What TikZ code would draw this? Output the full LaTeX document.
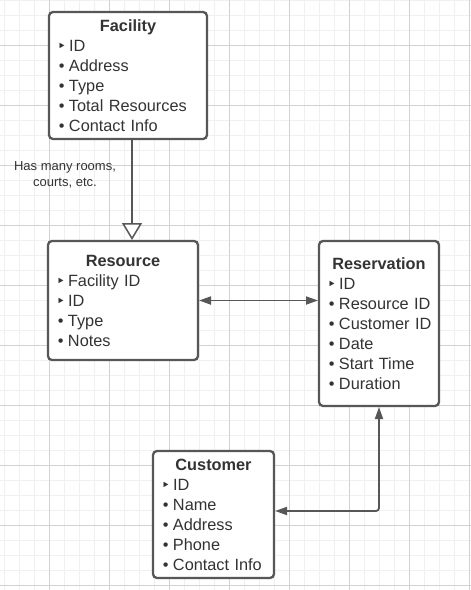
\documentclass[tikz,border=0pt]{standalone}
\usepackage{fontspec}
\setmainfont{Liberation Sans}
\newfontfamily\markfont{DejaVu Sans}
\usetikzlibrary{arrows.meta}

\definecolor{inkgray}{HTML}{333333}
\definecolor{edgegray}{HTML}{575757}
\definecolor{minorline}{HTML}{F0F0F0}
\definecolor{majorline}{HTML}{D2D2D2}

\newcommand\dotitem{\makebox[10pt][l]{\makebox[5.6pt][c]{•}}}
\newcommand\keyitem{\makebox[10pt][l]{\makebox[5.6pt][c]{\markfont\fontsize{15}{15}\selectfont ‣}}}
\newcommand\entitytitle[1]{\makebox[\hsize][c]{\bfseries #1}}

\tikzset{
  entity/.style={draw=edgegray, line width=2.3pt, rounded corners=4pt, fill=white,
    text=inkgray, anchor=north west, align=left, inner xsep=10pt, inner ysep=0pt,
    outer sep=0pt, font=\fontsize{16.3}{20}\selectfont},
  link/.style={draw=edgegray, line width=1.8pt, shorten <=1pt, shorten >=1pt},
  note/.style={text=inkgray, align=center, font=\fontsize{13}{16}\selectfont},
  >={Triangle[length=12pt,width=8pt]}
}

\begin{document}
\begin{tikzpicture}[x=1pt,y=-1pt]
\useasboundingbox (0,0) rectangle (471,590);
\fill[white] (0,0) rectangle (471,590);
\begin{scope}
\clip (0,0) rectangle (471,590);
\draw[minorline, line width=0.8pt, xshift=4.5pt, step=15pt] (-15pt,15pt) grid (480pt,-600pt);
\draw[majorline, line width=1pt, xshift=-10.5pt, yshift=-45pt, step=60pt] (0pt,60pt) grid (540pt,-600pt);
\end{scope}

\node[entity, text width=138pt, minimum height=127pt] (facility) at (49,12)
  {\entitytitle{Facility}\\ \keyitem ID\\ \dotitem Address\\ \dotitem Type\\
   \dotitem Total~Resources\\ \dotitem Contact~Info};
\node[entity, text width=130pt, minimum height=119pt] (resource) at (48,241)
  {\entitytitle{Resource}\\ \keyitem Facility~ID\\ \keyitem ID\\ \dotitem Type\\ \dotitem Notes};
\node[entity, text width=100pt, minimum height=165pt] (reservation) at (319,241)
  {\entitytitle{Reservation}\\ \keyitem ID\\ \dotitem Resource~ID\\ \dotitem Customer~ID\\
   \dotitem Date\\ \dotitem Start~Time\\ \dotitem Duration};
\node[entity, text width=101pt, minimum height=127pt] (customer) at (153,451)
  {\entitytitle{Customer}\\ \keyitem ID\\ \dotitem Name\\ \dotitem Address\\ \dotitem Phone\\
   \dotitem Contact~Info};

\node[note] (roomsnote) at (65,175) {Has many rooms,\\ courts, etc.};

% facility has resources
\draw[link, -{Triangle[fill=white, length=17pt, width=20pt, line width=1.5pt]}]
  ([xshift=4pt]facility.south) -- ([xshift=4pt]facility.south |- resource.north);
\draw[link, <->] (resource.east) -- (resource.east -| reservation.west);
\draw[link, <->, rounded corners=3pt] (reservation.south) |- ([yshift=3.5pt]customer.east);
\end{tikzpicture}
\end{document}
